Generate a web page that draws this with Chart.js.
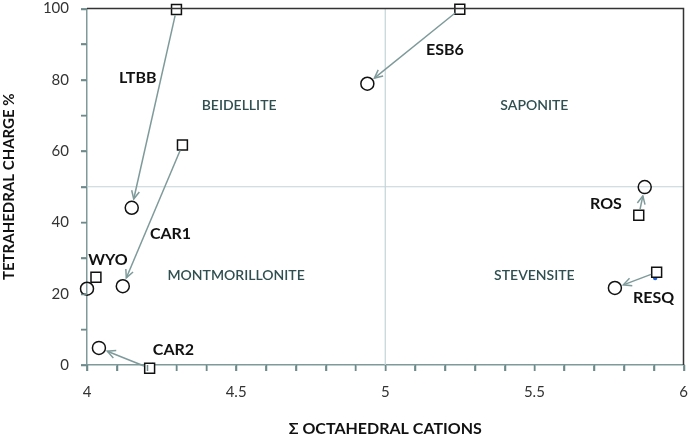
<!DOCTYPE html>
<html>
<head>
<meta charset="utf-8">
<script src="https://cdn.jsdelivr.net/npm/chart.js@4/dist/chart.umd.min.js"></script>
<style>
  html, body { margin: 0; padding: 0; background: #fff; }
  #wrap { width: 692px; height: 438px; }
</style>
</head>
<body>
<div id="wrap"><canvas id="chart"></canvas></div>
<script>
// sample names, starting (square) and final (circle) positions
const samples = ['LTBB', 'CAR1', 'WYO', 'CAR2', 'ESB6', 'ROS', 'RESQ'];
const squareX = [4.30, 4.32, 4.03, 4.21, 5.25, 5.85, 5.91];
const squareY = [99.7, 61.7, 24.6, -0.9, 99.8, 42.0, 26.0];
const circleX = [4.15, 4.12, 4.00, 4.04, 4.94, 5.87, 5.77];
const circleY = [44.1, 22.1, 21.4, 4.8, 78.9, 49.9, 21.6];
const hasArrow = [true, true, false, true, true, true, true];

// little blue markers
const dotX = [4.22, 5.905];
const dotY = [0.0, 24.4];

// label anchors (data units)
const labelX = [4.17, 4.28, 4.07, 4.29, 5.20, 5.74, 5.90];
const labelY = [80.5, 36.8, 29.5, 4.2, 88.3, 45.1, 18.7];

const regions = ['BEIDELLITE', 'SAPONITE', 'MONTMORILLONITE', 'STEVENSITE'];
const regionX = [4.51, 5.50, 4.50, 5.50];
const regionY = [72.7, 72.7, 25.1, 25.1];

// light dividing lines
const splitX = 5;
const splitY = 50;

const FONT = 'Lato, "Open Sans", sans-serif';
const AXIS = '#7f9a9a';

const overlay = {
  id: 'overlay',
  beforeDatasetsDraw(chart) {
    const { ctx, chartArea: a, scales: { x, y } } = chart;
    ctx.save();
    ctx.strokeStyle = '#c5d3d6';
    ctx.lineWidth = 1.2;
    ctx.beginPath();
    const px = x.getPixelForValue(splitX), py = y.getPixelForValue(splitY);
    ctx.moveTo(px, a.top);
    ctx.lineTo(px, a.bottom);
    ctx.moveTo(a.left, py);
    ctx.lineTo(a.right, py);
    ctx.stroke();
    ctx.restore();
  },
  afterDatasetsDraw(chart) {
    const { ctx, scales: { x, y } } = chart;
    ctx.save();
    // arrows square -> circle
    ctx.strokeStyle = '#7f9a9a';
    ctx.lineWidth = 1.5;
    samples.forEach((s, i) => {
      if (!hasArrow[i]) return;
      const x0 = x.getPixelForValue(squareX[i]), y0 = y.getPixelForValue(squareY[i]);
      const x1 = x.getPixelForValue(circleX[i]), y1 = y.getPixelForValue(circleY[i]);
      const dx = x1 - x0, dy = y1 - y0, len = Math.hypot(dx, dy);
      const ux = dx / len, uy = dy / len;
      const sx = x0 + ux * 6, sy = y0 + uy * 6;
      const ex = x1 - ux * 9, ey = y1 - uy * 9;
      ctx.beginPath();
      ctx.moveTo(sx, sy);
      ctx.lineTo(ex, ey);
      ctx.stroke();
      const ang = Math.atan2(uy, ux);
      ctx.beginPath();
      ctx.moveTo(ex - 9 * Math.cos(ang - 0.45), ey - 9 * Math.sin(ang - 0.45));
      ctx.lineTo(ex, ey);
      ctx.lineTo(ex - 9 * Math.cos(ang + 0.45), ey - 9 * Math.sin(ang + 0.45));
      ctx.stroke();
    });

    ctx.textAlign = 'center';
    ctx.textBaseline = 'middle';
    ctx.fillStyle = '#111';
    ctx.font = 'bold 16px ' + FONT;
    samples.forEach((s, i) => {
      ctx.fillText(s, x.getPixelForValue(labelX[i]), y.getPixelForValue(labelY[i]));
    });

    ctx.fillStyle = '#2f4f50';
    ctx.font = '600 14px ' + FONT;
    regions.forEach((r, i) => {
      ctx.fillText(r, x.getPixelForValue(regionX[i]), y.getPixelForValue(regionY[i]));
    });
    ctx.restore();
  },
  afterDraw(chart) {
    const { ctx, chartArea: a, scales: { x, y } } = chart;
    ctx.save();
    // tick marks, outside the axes
    ctx.strokeStyle = '#6f8a8a';
    ctx.lineWidth = 1.5;
    ctx.beginPath();
    x.ticks.forEach(t => {
      const p = Math.round(x.getPixelForValue(t.value)) + 0.5;
      ctx.moveTo(p, a.bottom);
      ctx.lineTo(p, a.bottom + 6);
    });
    y.ticks.forEach(t => {
      const p = Math.round(y.getPixelForValue(t.value)) + 0.5;
      ctx.moveTo(a.left, p);
      ctx.lineTo(a.left - 6, p);
    });
    ctx.stroke();

    // dark top and right frame
    ctx.strokeStyle = '#333';
    ctx.lineWidth = 1.5;
    ctx.beginPath();
    ctx.moveTo(a.left, a.top);
    ctx.lineTo(a.right, a.top);
    ctx.lineTo(a.right, a.bottom);
    ctx.stroke();
    ctx.restore();
  }
};

new Chart(document.getElementById('chart'), {
  type: 'scatter',
  data: {
    datasets: [
      {
        label: 'start',
        data: squareX.map((v, i) => ({ x: v, y: squareY[i] })),
        pointStyle: 'rect',
        pointRadius: 7,
        backgroundColor: '#fff',
        borderColor: '#111',
        borderWidth: 1.5,
        clip: false
      },
      {
        label: 'dot',
        data: dotX.map((v, i) => ({ x: v, y: dotY[i] })),
        pointRadius: 2.2,
        backgroundColor: '#2060d8',
        borderColor: '#2060d8',
        borderWidth: 0,
        clip: false
      },
      {
        label: 'final',
        data: circleX.map((v, i) => ({ x: v, y: circleY[i] })),
        pointStyle: 'circle',
        pointRadius: 6.5,
        backgroundColor: 'rgba(255,255,255,0)',
        borderColor: '#111',
        borderWidth: 1.5,
        clip: false
      }
    ]
  },
  options: {
    responsive: true,
    maintainAspectRatio: false,
    animation: false,
    layout: { padding: { top: 6, right: 5, left: 0, bottom: 0 } },
    plugins: {
      legend: { display: false },
      tooltip: { enabled: false }
    },
    scales: {
      x: {
        type: 'linear',
        min: 4,
        max: 6,
        afterFit: s => { s.height = 73; s.paddingLeft = 0; s.paddingRight = 0; },
        ticks: {
          stepSize: 0.1,
          autoSkip: false,
          maxRotation: 0,
          padding: 12,
          color: '#333',
          font: { family: FONT, size: 15 },
          callback: v => Math.abs(v * 2 - Math.round(v * 2)) < 1e-6 ? String(Math.round(v * 10) / 10) : ''
        },
        grid: {
          drawOnChartArea: false,
          color: AXIS,
          tickColor: AXIS,
          tickLength: 6,
          lineWidth: 1.5
        },
        border: { color: AXIS, width: 1.5 },
        title: {
          display: true,
          text: 'Σ OCTAHEDRAL CATIONS',
          color: '#111',
          font: { family: FONT, size: 16, weight: 'bold' },
          padding: { top: 10, bottom: 0 }
        }
      },
      y: {
        type: 'linear',
        min: 0,
        max: 100,
        afterFit: s => { s.width = 87; s.paddingTop = 0; s.paddingBottom = 0; },
        ticks: {
          stepSize: 10,
          autoSkip: false,
          padding: 12,
          color: '#333',
          font: { family: FONT, size: 15 },
          callback: v => v % 20 === 0 ? String(v) : ''
        },
        grid: {
          drawOnChartArea: false,
          color: AXIS,
          tickColor: AXIS,
          tickLength: 6,
          lineWidth: 1.5
        },
        border: { color: AXIS, width: 1.5 },
        title: {
          display: true,
          text: 'TETRAHEDRAL CHARGE %',
          color: '#111',
          font: { family: FONT, size: 15, weight: 'bold' },
          padding: { top: 0, bottom: 0 }
        }
      }
    }
  },
  plugins: [overlay]
});
</script>
</body>
</html>
